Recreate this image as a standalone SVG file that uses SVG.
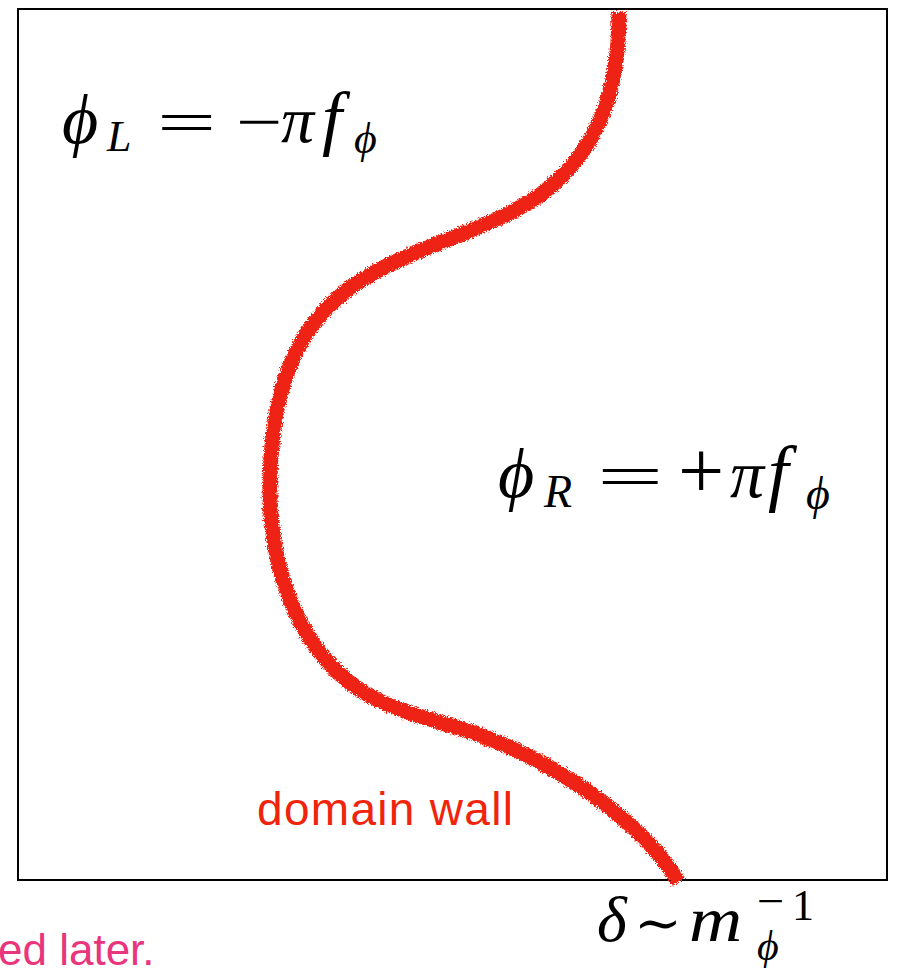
<svg xmlns="http://www.w3.org/2000/svg" width="897" height="968" viewBox="0 0 897 968">
<defs>
<style>
.m{font-family:"Liberation Serif","DejaVu Serif","Times New Roman",serif;fill:#000}
.i{font-style:italic}
.wall{fill:none;stroke:#ef2212;stroke-width:15;stroke-linecap:butt}
</style>
<filter id="rough" x="-5%" y="-5%" width="110%" height="110%">
<feTurbulence type="fractalNoise" baseFrequency="1.2" numOctaves="2" seed="3" result="n"/>
<feDisplacementMap in="SourceGraphic" in2="n" scale="7" xChannelSelector="R" yChannelSelector="G"/>
</filter>
</defs>
<rect width="897" height="968" fill="#fff"/>
<g id="frame"><rect x="18" y="9" width="869" height="871" fill="none" stroke="#000" stroke-width="2"/></g>
<g id="connectors">
<path id="domain-wall" class="wall" filter="url(#rough)" d="M619 12 C619 90,600 150,540 195 C490 230,420 245,370 275 C300 315,272 380,270 480 C268 570,300 650,360 690 C400 715,440 720,480 735 C560 765,640 820,679 882"/>
</g>
<g id="label-phiL" class="m">
<text class="i" x="62" y="143" font-size="70">ϕ</text>
<text class="i" x="107" y="151" font-size="44">L</text>
<text transform="translate(157,142) scale(1.75,1)" font-size="60">=</text>
<text transform="translate(236,142) scale(1.37,1)" font-size="60">−</text>
<text class="i" x="281" y="142" font-size="66">π</text>
<text class="i" x="322" y="142" font-size="72">f</text>
<text class="i" x="354" y="153" font-size="44">ϕ</text>
</g>
<g id="label-phiR" class="m">
<text class="i" x="498" y="497" font-size="70">ϕ</text>
<text class="i" x="544" y="507" font-size="46">R</text>
<text transform="translate(597,497) scale(1.9,1)" font-size="62">=</text>
<text x="678" y="498" font-size="82">+</text>
<text class="i" x="730" y="497" font-size="68">π</text>
<text class="i" x="768" y="497" font-size="74">f</text>
<text class="i" x="806" y="509" font-size="46">ϕ</text>
</g>
<g id="label-delta" class="m">
<text class="i" x="597" y="941" font-size="64">δ</text>
<text transform="translate(634,941) scale(1.1,1)" font-size="52" font-family="DejaVu Serif">∼</text>
<text class="i" transform="translate(689,941) scale(1.15,1)" font-size="64">m</text>
<text transform="translate(757,916) scale(1.1,1)" font-size="44">−</text>
<text x="792" y="920" font-size="44">1</text>
<text class="i" x="757" y="960" font-size="42">ϕ</text>
</g>
<g id="label-wall"><text x="257" y="825" font-family="Liberation Sans,Arial,sans-serif" font-size="46" fill="#f0240c" textLength="256">domain wall</text></g>
<g id="label-note"><text x="-2" y="965" font-family="Liberation Sans,Arial,sans-serif" font-size="44" fill="#e8357c">ed later.</text></g>
</svg>
